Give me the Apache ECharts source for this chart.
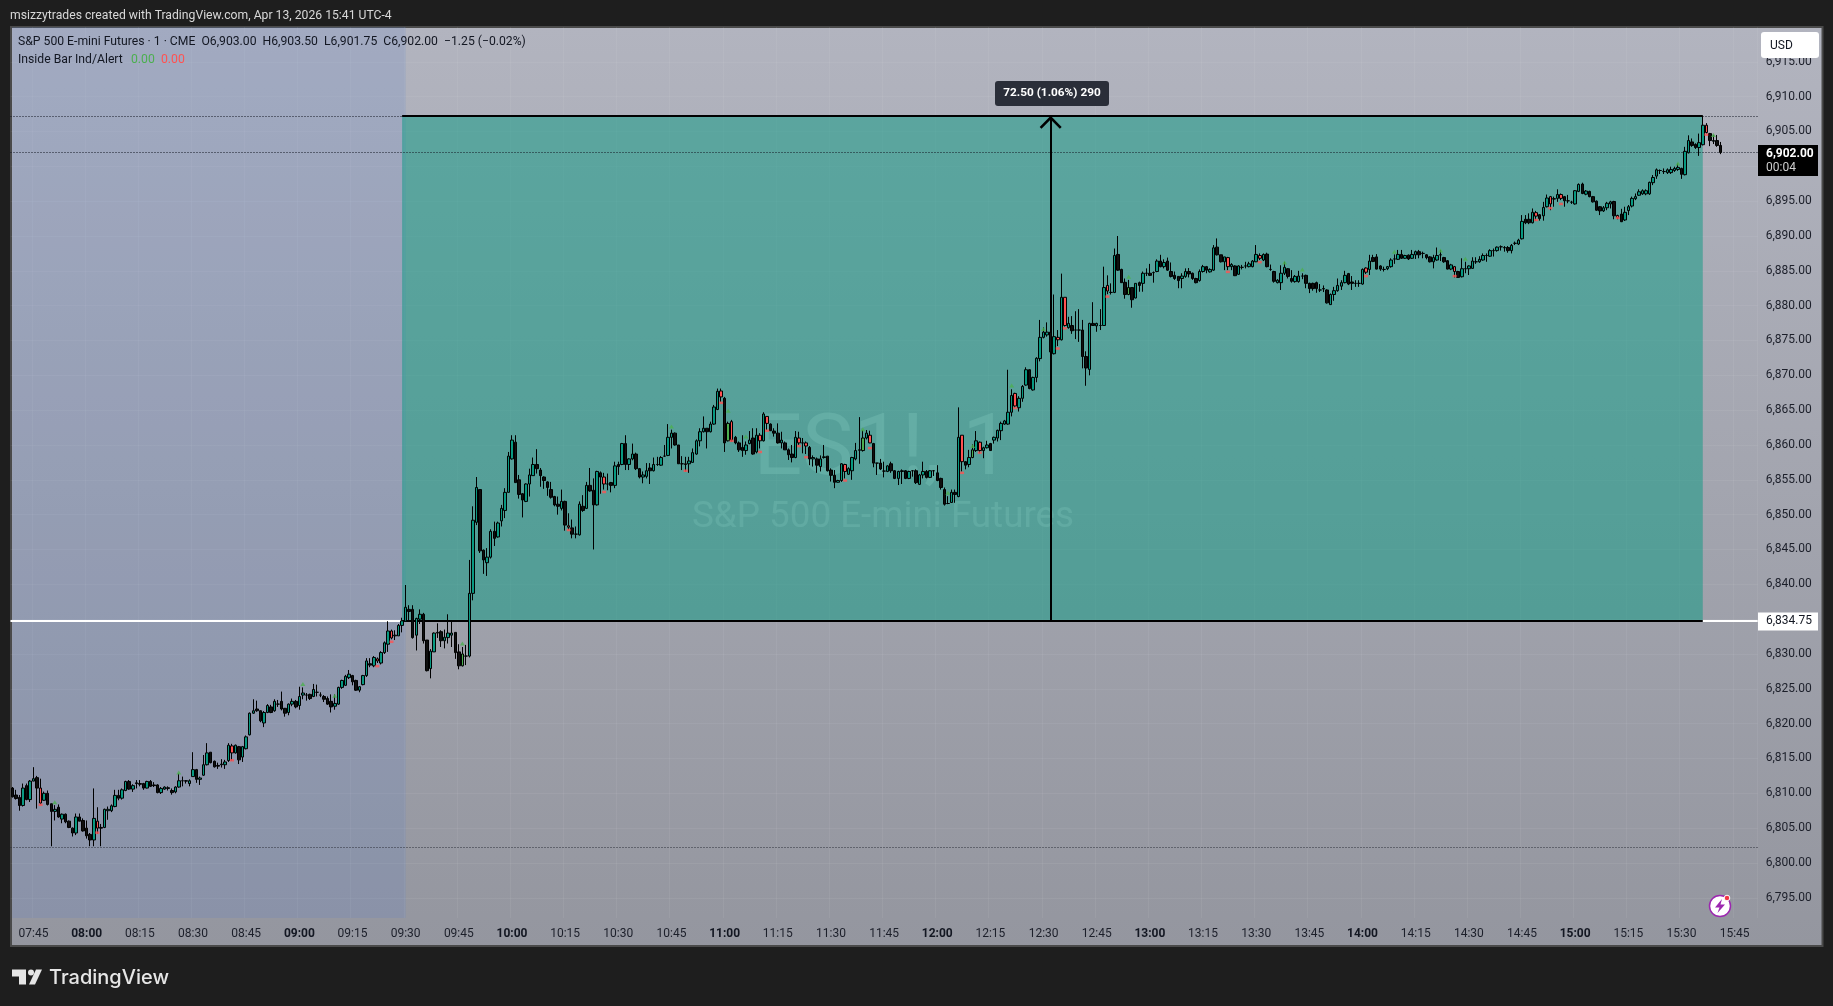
<!DOCTYPE html>
<html><head><meta charset="utf-8">
<style>html,body{margin:0;padding:0;background:#1e1e1e}#c{width:1833px;height:1006px}</style>
<script src="https://cdn.jsdelivr.net/npm/echarts@6/dist/echarts.min.js"></script>
</head><body><div id="c"></div>
<script>
// Rows are [open, high, low, close], one per minute from 07:39.
const barsPremarket=[
[6810.75,6810.9,6809.4,6809.5],[6809.75,6810.5,6809.1,6809.25],[6809.4,6809.75,6807.5,6808.25],[6808.25,6811.4,6808.1,6810.75],[6811.1,6811.4,6809,6809.1],[6809.1,6811.9,6808.75,6811.75],[6811.75,6813.75,6811.75,6812.1],[6812.25,6812.5,6807.8,6810.75],[6810.75,6812.1,6808.4,6808.6],[6809,6810.25,6808.9,6810],
[6810,6810.4,6808.25,6808.4],[6808.5,6808.5,6802.4,6807.4],[6807.4,6808.3,6806.1,6807.7],[6808,6808.4,6806.5,6806.6],[6806.3,6807.1,6805.7,6807],[6807,6807.1,6805.7,6805.9],[6806,6806.1,6805,6805.1],[6805,6805.1,6803.8,6804.3],[6804.3,6807.1,6804,6806.6],[6806.6,6807.1,6806,6806],
[6806.1,6806.4,6804.5,6804.6],[6805,6806.1,6803.5,6803.9],[6804.1,6804.3,6802.4,6803.3],[6803.3,6810.7,6802.4,6806.4],[6806,6808,6804.2,6805],[6805.1,6805.6,6802.4,6805],[6805.1,6807.8,6805,6807.7],[6807.5,6808.1,6806.2,6807.7],[6807.5,6808.4,6807.3,6808.2],[6808.1,6810.5,6808,6809.7],
[6809.7,6810.5,6809,6809.3],[6809.3,6810.7,6809.1,6810.5],[6810.4,6811.8,6810.3,6811.7],[6811.7,6811.9,6810.5,6810.6],[6810.6,6811.3,6810.2,6811.1],[6811.5,6811.9,6810.7,6811.4],[6811.4,6811.9,6811,6811.3],[6811.4,6811.5,6810.5,6810.75],[6810.75,6811.8,6810.7,6811.7],[6811.7,6811.9,6810.9,6811],
[6811.2,6811.6,6810.9,6811.1],[6811.2,6811.3,6810,6810.1],[6810.1,6810.9,6809.9,6810.7],[6810.6,6811,6810.5,6810.9],[6810.8,6811,6810.4,6810.7],[6810.4,6810.7,6809.8,6810.1],[6810.2,6811,6810,6810.9],[6810.9,6812.85,6810.8,6811.8],[6811.8,6812.4,6811,6811.8],[6811.8,6811.9,6811.4,6811.75],
[6811.4,6812,6811,6811.8],[6812.4,6815.9,6812.4,6813.4],[6813.4,6813.5,6811.5,6812],[6812,6812.4,6811.2,6812.2],[6812.6,6815.5,6812.5,6814.1],[6814.1,6817.2,6814,6815.8],[6815.9,6815.9,6814.3,6814.4],[6814.6,6814.7,6813.7,6813.8],[6814,6814.4,6813.5,6813.9],[6814.1,6814.9,6813.7,6814.2],
[6814.1,6814.8,6813.5,6814.5],[6814.7,6817.2,6814.5,6816.9],[6816.8,6817.1,6814.7,6815.8],[6815.8,6817,6815.7,6816.9],[6816.7,6816.8,6814.2,6814.8],[6815.2,6816.8,6814.5,6816.7],[6816.4,6818.3,6816.3,6818.1],[6818.4,6821.6,6818.3,6821.5],[6821.5,6823.5,6821.4,6821.85],[6822.1,6823.3,6821.7,6821.85],
[6821.85,6821.9,6820.2,6820.4],[6820.1,6821.8,6819.5,6821.6],[6821.6,6822.8,6821.5,6822.6],[6822.4,6822.7,6821.5,6821.6],[6821.85,6823.5,6821.7,6823.2],[6822.8,6823.4,6822.4,6822.8],[6823.2,6824.6,6821.9,6822.1],[6822.2,6822.25,6821,6821.5],[6821.6,6822.9,6821.2,6822.8],[6822.8,6823.6,6822.5,6823.2],
[6823.2,6823.4,6822.2,6822.4],[6822.6,6825.3,6822,6823.9],[6824.1,6825.2,6823.5,6824.4],[6824.1,6824.4,6823.3,6824.1],[6824.2,6824.3,6823.4,6823.6],[6823.9,6825.7,6823.8,6824.9],[6824.5,6825.6,6823.9,6824.5],[6824.1,6824.5,6823.8,6824.1],[6823.9,6824.1,6823.1,6823.5],[6823.6,6823.9,6822.7,6822.8],
[6823.2,6824.2,6821.6,6822.4],[6822.5,6824.2,6822,6822.9],[6822.8,6825.3,6822.7,6825.2],[6825.2,6826.3,6825,6826.2],[6825.5,6827,6825.4,6826.8],[6826.6,6827.7,6826.4,6827.1],[6826.9,6827,6825.5,6826],[6826.2,6826.3,6824.7,6824.8],[6824.8,6825.4,6824.5,6825.3],[6825.6,6827,6825.5,6826.9],
[6826.9,6829.4,6826.7,6829],[6828.6,6829.4,6828.1,6828.4],[6828.3,6829.7,6828.1,6829.5],[6829.3,6829.5,6828.7,6829],[6828.7,6830.4,6828.5,6830.2],[6830.2,6831.8,6830,6831.6],[6831.4,6834.7,6830.3,6833.3],[6833.3,6833.5,6832.1,6832.3],[6832.6,6833.4,6832,6832.7],[6832.6,6834.3,6832.6,6834.1],
[6834.1,6835.2,6833.1,6834.75]];
const barsMorning=[
[6834.7,6839.9,6834.7,6836.7],[6836.4,6837,6834.7,6836.1],[6836.4,6837,6832.2,6832.35],[6832.7,6835.2,6830.5,6835.1],[6835,6836.4,6834.3,6835.7],[6835.7,6835.9,6831.5,6831.9],[6832,6832,6827.5,6827.6],[6827.9,6830.7,6826.5,6830.4],[6830.3,6833.1,6830.3,6833],[6833,6834.4,6832.3,6833.1],
[6833.2,6833.4,6831,6831.9],[6831.9,6833.5,6830.8,6832.4],[6832.35,6835.7,6831.5,6833],[6832.7,6834.6,6831,6833],[6833.1,6833.1,6829.3,6830.2],[6830.3,6831.4,6827.8,6828.3],[6828.3,6831,6828.2,6830],[6829.7,6831.3,6828.4,6829.7],[6829.7,6843.5,6829.5,6838.7],[6838.7,6851.2,6837.7,6849.2],
[6848.9,6855.4,6848.5,6853.9],[6853.6,6853.6,6844.5,6844.8],[6844.9,6845,6841.5,6843.5],[6843.1,6845.2,6841.2,6843.9],[6843.9,6847.9,6843.7,6847.6],[6847.6,6849,6845.5,6846.6],[6846.8,6849,6846.7,6848.8],[6849.1,6851.4,6848.3,6850.9],[6850.6,6853.8,6849.5,6853.2],[6853.2,6859,6853.2,6858.4],
[6858,6861.4,6857.9,6860.7],[6860.4,6861.4,6854.6,6854.6],[6855,6855.7,6852.3,6852.9],[6853,6853.1,6849.6,6852.1],[6851.9,6854.5,6851.8,6854.4],[6854.4,6856.6,6852.6,6855.7],[6855.6,6858.2,6855.6,6857.2],[6857.2,6859.4,6855.9,6856.6],[6856.4,6856.7,6854,6855.6],[6855.4,6855.5,6853.7,6854.9],
[6854.7,6854.8,6852.7,6853.9],[6853.6,6854.7,6852.3,6852.5],[6852.6,6852.7,6851.2,6851.4],[6851.5,6852.6,6850,6851.2],[6850.9,6853.6,6850.6,6851.9],[6851.9,6852,6847.7,6848.5],[6848.4,6850.2,6847.8,6848.2],[6848.1,6849.3,6846.6,6847.2],[6847.2,6848.3,6846.6,6847.2],[6847.1,6851.9,6847,6851.5],
[6851.2,6852.8,6850.4,6850.6],[6850.9,6854.7,6850.8,6854.2],[6854.2,6856.7,6853.3,6853.4],[6853.5,6855.2,6845,6851.4],[6851.4,6856.3,6851.3,6856.2],[6856,6856.2,6853,6855.4],[6855.4,6856,6853.6,6854.4],[6854.4,6855.9,6853.5,6854.4],[6854.6,6854.7,6853.2,6854.2],[6854.2,6857.6,6853.8,6857],
[6857.2,6857.6,6855.7,6856.9],[6857.2,6860.3,6857.1,6860.2],[6860.2,6861.4,6856.4,6857.2],[6857.2,6858.1,6856.4,6858],[6858,6860.2,6857.8,6858.7],[6858.7,6858.9,6856.4,6856.6],[6856.6,6856.7,6855.2,6855.4],[6855.4,6856.2,6854.5,6855.7],[6855.5,6857.4,6855.2,6856.3],[6856.7,6857.4,6854.4,6856.3],
[6856.3,6858.2,6856.2,6857.2],[6857.2,6858.3,6857,6857.2],[6857.1,6858.4,6857,6858.2],[6858.4,6860,6858.3,6858.4],[6858.5,6863,6858.4,6861.1],[6861.1,6862.2,6859.5,6861.7],[6861.7,6861.8,6859.9,6860],[6860,6860,6857.3,6857.3],[6857.3,6858.4,6856.4,6857.3],[6857.3,6858.3,6856.2,6857.2],
[6857.3,6858.3,6856,6857.7],[6857.5,6859.5,6857.5,6858.9],[6858.7,6860.8,6858.6,6860.6],[6860.6,6862.4,6859.8,6861.9]];
const barsMidday=[
[6861.9,6864.1,6861.8,6862.4],[6862.4,6862.4,6859.5,6861.9],[6861.9,6863.35,6861.8,6863],[6863,6865.75,6862.9,6865.45],[6865.1,6868.1,6865,6867.7],[6867.75,6868.1,6866.2,6866.9],[6866.7,6866.9,6859,6860.3],[6860.6,6863.35,6860.5,6863.1],[6863.35,6863.6,6860.5,6860.7],[6861.1,6861.3,6860.1,6860.3],
[6860.3,6860.5,6859,6859.3],[6859.65,6861.4,6858.3,6859.2],[6859.2,6860.5,6858.6,6860],[6860.2,6862,6860.1,6860.7],[6861,6862.4,6858.6,6858.7],[6859,6862.4,6858.8,6861.4],[6861.4,6861.7,6859.5,6860.6],[6860.6,6864.7,6860.5,6864.45],[6864.1,6864.1,6862.15,6863.1],[6863,6863.1,6862,6862.05],
[6862,6862.4,6861.2,6861.7],[6861.7,6863.1,6860.2,6860.3],[6860.3,6861.9,6859.5,6860.7],[6860.3,6860.5,6859.3,6859.3],[6859.3,6859.5,6857.85,6858.6],[6858.7,6860,6857.5,6858.2],[6858.2,6862,6858.1,6861.1],[6861,6861.9,6860,6860.3],[6860.3,6861,6858.8,6860.3],[6860.3,6860.5,6858.7,6859.85],
[6859.65,6859.85,6857.1,6858],[6858,6858.5,6856.9,6858.2],[6858,6858.2,6856,6857.1],[6856.9,6858.5,6856.2,6858],[6858.2,6860,6858.05,6858.3],[6858.4,6858.4,6856.2,6856.3],[6856.4,6856.65,6854.75,6855.65],[6855.65,6856.4,6853.8,6854.65],[6854.65,6855,6854.6,6854.9],[6854.9,6857.4,6854.7,6857.3],
[6857.2,6857.3,6855.2,6856.2],[6855.8,6856.8,6855.7,6856.6],[6856.3,6858.3,6855,6858.2],[6858,6860.3,6857.8,6859.2],[6859.3,6864,6857.3,6859.25],[6859.2,6862.15,6859.05,6861],[6861,6862.15,6860.8,6861.7],[6861.4,6862.05,6860.25,6860.3],[6860.2,6860.3,6856.8,6857.4],[6857.4,6857.4,6855.7,6857.4],
[6857.4,6858,6856.4,6856.55],[6856.25,6857.6,6855.35,6856.25],[6856.2,6857.1,6856.1,6857],[6857.3,6857.6,6856,6856.3],[6856.3,6856.4,6855.1,6855.2],[6855.2,6856.3,6854.25,6856.2],[6856.2,6856.5,6854.4,6856.3],[6856.3,6856.4,6855.1,6855.2],[6855.2,6856.3,6855.1,6856.2],[6856.3,6856.35,6855.45,6856.3],
[6856.3,6856.5,6854.4,6854.6],[6854.35,6855.85,6854.25,6855.7],[6855.7,6857.6,6855.2,6856.2],[6856.2,6856.4,6855.2,6855.35],[6855.35,6856.4,6855.25,6856.3],[6856.3,6856.4,6855.55,6856.3],[6856,6857.1,6854.8,6854.9],[6855.2,6855.3,6853.6,6853.9],[6853.6,6853.9,6851.3,6851.5],[6851.6,6852.65,6851.5,6851.6],
[6851.75,6853.6,6851.7,6853.2],[6853.2,6853.6,6851.7,6852.9],[6852.6,6865.4,6852.5,6861.1],[6861.4,6861.4,6856.2,6857.6],[6857.6,6857.7,6856.5,6857.1],[6857.2,6859.3,6856.8,6858.2],[6858.2,6860.1,6858.1,6859.3],[6859.2,6862,6859,6860.6],[6860.4,6860.5,6858.8,6859.2],[6859.2,6859.75,6858.1,6859.6],
[6859.6,6860.6,6859.5,6860],[6860.2,6860.3,6859.2,6859.2]];
const barsAfternoon=[
[6860.7,6861.2,6860.2,6861.1],[6861,6862.2,6860.5,6862.1],[6862.05,6863.35,6860.7,6863.1],[6863,6863.6,6862.9,6863.45],[6863,6870.8,6862.9,6864.7],[6864.7,6868,6864.1,6867.1],[6867.4,6867.5,6865.3,6865.6],[6865.35,6867,6864.8,6866.7],[6866.7,6868.6,6866.2,6868.4],[6868.6,6871.15,6868.5,6870.8],
[6870.8,6870.85,6868,6868.1],[6867.9,6869.8,6867.8,6869.7],[6869.7,6872.6,6869,6872.45],[6872.4,6877.95,6872,6875.45],[6875.45,6876.9,6875.3,6876.2],[6875.8,6877.6,6875.55,6876.2],[6876.2,6876.2,6872.8,6873.35],[6873.1,6881.6,6873,6875.55],[6875.1,6876.5,6874.2,6875.45],[6875.1,6884.6,6875,6881.2],
[6881.2,6881.2,6877,6877.15],[6876.85,6878.4,6876.7,6877.45],[6877.15,6878.5,6875.95,6876.4],[6876.5,6879.2,6875.2,6876.5],[6876.5,6879.5,6874.8,6876.5],[6876.5,6877.95,6871,6872.7],[6872.7,6873.45,6868.5,6871.05],[6870.85,6877.55,6870,6877.45],[6877.45,6880.5,6877.1,6877.15],[6877.1,6877.55,6876.25,6877.45],
[6877.15,6879.5,6876.5,6877.15],[6877.15,6885.6,6877.1,6882.6],[6882.9,6884.35,6881.65,6882.1],[6881.9,6883.2,6881.6,6881.9],[6881.9,6888.2,6881.8,6887.2],[6887.35,6890,6885,6885.1],[6885.2,6885.3,6883.25,6883.3],[6883.35,6883.9,6881,6881.6],[6881.6,6883.7,6881.5,6882.6],[6882.6,6882.6,6879.7,6880.85],
[6881.1,6883.2,6881.05,6883.2],[6883.3,6883.45,6882,6882.9],[6883.2,6884.9,6882,6884.65],[6884.65,6885.35,6884.25,6884.65],[6884.65,6886,6884.25,6884.35],[6884.75,6884.9,6883.3,6884.75],[6884.9,6886.65,6884.8,6886.4],[6886.4,6887.3,6885.5,6885.6],[6885.6,6886.65,6885.35,6886.2],[6886.4,6886.9,6885,6885.1],
[6884.9,6886.2,6884.05,6884.2],[6884.35,6884.9,6883.7,6883.9],[6884.2,6884.25,6882.5,6883.6],[6883.9,6884.65,6882.5,6884.25],[6884.2,6885.35,6884,6884.9],[6884.9,6885.4,6884.05,6884.55],[6884.65,6884.75,6883.7,6883.9],[6883.9,6884,6883.2,6883.3],[6883.6,6885.2,6883.45,6884.9],[6884.9,6885.85,6884.75,6885.6],
[6885.6,6885.7,6884.65,6885.1],[6884.85,6885.35,6884.75,6885.2],[6885.1,6888.7,6885,6888.3],[6888.4,6889.65,6887.2,6887.3],[6887.3,6887.3,6886.2,6886.3],[6886.3,6887,6885.1,6887],[6886.9,6887,6885.1,6885.6],[6885.6,6886.1,6885.1,6885.9],[6885.7,6885.8,6884.25,6884.3],[6884.5,6885.8,6884.45,6885.7],
[6885.5,6885.85,6885.2,6885.5],[6885.7,6886.3,6885.35,6885.7],[6885.6,6886.3,6885.5,6886],[6885.6,6886.55,6885.5,6886.4],[6886.3,6888.7,6886.25,6887.35],[6887.2,6887.5,6886.55,6886.8],[6886.55,6887.5,6886.4,6887.35],[6887.4,6887.6,6885.5,6885.6],[6885.2,6885.9,6885,6885.2],[6884.9,6885,6883.3,6883.5],
[6883.3,6883.8,6883.2,6883.65],[6883.3,6885.8,6882.25,6884.65],[6884.65,6886.3,6884.4,6885.5],[6885.3,6885.4,6883.9,6884.2],[6883.9,6885.1,6883.3,6883.5],[6883.45,6884.4,6883.3,6884.2],[6883.45,6885,6883.3,6884.25],[6884.25,6884.65,6883.8,6884.25],[6884.35,6884.45,6882.5,6883.2],[6883.2,6883.3,6881.8,6882.45],
[6883.2,6883.3,6882.15,6882.45],[6883.3,6883.45,6881.85,6882.45],[6882.25,6883.1,6881.95,6882.25],[6882.45,6882.9,6881.95,6882.4],[6882.25,6882.35,6880.3,6880.4],[6880.15,6881.75,6880.1,6881.6],[6881.6,6882.7,6880.7,6882.15],[6882.15,6883.9,6882,6882.9],[6882.8,6883.65,6882.25,6883.3],[6883.3,6885,6883.2,6884.35],
[6884.6,6884.7,6882.95,6883.1],[6883.4,6884.25,6882.25,6883.2],[6883.2,6883.65,6882.7,6883.2],[6883.2,6883.65,6882.7,6883.2],[6883.1,6885.35,6883,6885.2],[6885.4,6885.5,6884.55,6884.8],[6885.2,6887.3,6884.4,6886.4],[6886.9,6887.3,6886.25,6886.35],[6887,6887.4,6885.2,6885.25],[6885.7,6885.8,6885,6885.25],
[6885.2,6885.6,6884.9,6885.2],[6885.3,6885.7,6885.1,6885.6],[6885.6,6886.8,6885.45,6886.55],[6886.7,6887.35,6886,6886.7],[6886.65,6888,6886.55,6887.35],[6887.35,6888,6886.7,6886.8],[6886.8,6887.3,6886.7,6887.2],[6887.25,6887.35,6886.55,6886.7],[6886.8,6888,6886.7,6887.35],[6887.3,6887.9,6886.7,6887.75],
[6887.75,6888,6886.8,6887.3],[6887.5,6887.75,6886.8,6887.5],[6887.3,6887.4,6886.65,6886.9],[6887,6887.1,6886.2,6886.3],[6886.3,6887.3,6885.35,6886.9],[6886.55,6888.35,6886.45,6887.2],[6887.3,6888,6886.4,6887.3],[6886.9,6887,6886.15,6886.3],[6886.45,6886.55,6885.2,6885.25],[6885.25,6886,6885.1,6885.85],
[6885.6,6885.7,6884.05,6884.9],[6884.9,6885,6884,6884.05],[6884.15,6886.8,6884.05,6885.3],[6885.3,6886.3,6884.65,6885.3],[6885.3,6885.8,6884.4,6885.7],[6885.35,6886.95,6885.3,6886.4],[6886.3,6886.95,6886,6886.3],[6886.3,6887.1,6886.15,6886.65],[6886.55,6887.5,6886.45,6887.2],[6887.2,6887.5,6886.3,6887.2],
[6887.1,6888.1,6887,6887.9],[6887.9,6888.2,6887.05,6887.9],[6887.9,6888.5,6887.75,6888.4]];
const barsClose=[
[6888.45,6888.65,6887.9,6888.45],[6888.35,6888.55,6887.75,6888.3],[6888.35,6888.55,6887.6,6887.9],[6887.9,6888.85,6887.5,6888.65],[6888.95,6889.2,6888.7,6888.95],[6888.85,6889.6,6888.7,6889.4],[6889.6,6893,6889.5,6892.1],[6892.4,6893,6891.7,6891.9],[6892.4,6893.25,6891.7,6891.9],[6891.9,6893.95,6891.8,6893.4],
[6893.35,6893.6,6892.2,6892.85],[6893.05,6893.15,6892.2,6892.5],[6892.9,6894.9,6892.2,6894.1],[6894.2,6895.95,6894.1,6895.45],[6895.65,6895.75,6893.7,6894.6],[6895.35,6895.65,6894.2,6895.3],[6895.4,6896.7,6894.9,6895.95],[6895.95,6896.1,6895.15,6895.4],[6895.65,6895.75,6894.2,6895.05],[6895.05,6895.9,6894.7,6895.05],
[6894.85,6895.05,6894.6,6894.85],[6894.6,6896.6,6894.5,6896.5],[6896.4,6897.55,6896.3,6897.4],[6897.45,6897.65,6896,6896.1],[6896,6896.6,6895.85,6896.45],[6896.4,6896.5,6895.55,6895.65],[6895.65,6895.75,6894.8,6894.9],[6895,6895.1,6893.6,6893.7],[6894.2,6894.3,6893,6893.6],[6893.6,6894.3,6893.45,6894.05],
[6894.05,6894.9,6893.7,6894.7],[6894.6,6895.05,6893.95,6894.9],[6894.95,6895.05,6892.4,6892.9],[6892.95,6893.05,6892.4,6892.6],[6893.15,6893.9,6892,6892.05],[6892.3,6894.2,6892.15,6893.4],[6893.65,6894.45,6893,6894.2],[6894.3,6895.65,6894.1,6895.4],[6895.35,6896.1,6895.15,6895.65],[6895.85,6896.7,6895.75,6896.35],
[6896.05,6896.7,6895.9,6896.5],[6896.05,6896.7,6895.85,6896.5],[6896.05,6897.8,6895.9,6897.7],[6897.65,6898.75,6897.3,6898.4],[6898.6,6899.7,6898.2,6899.5],[6899.4,6899.55,6898.9,6899.4],[6899.25,6899.7,6898.9,6899.25],[6899.1,6899.7,6898.9,6899.5],[6899.1,6899.95,6898.9,6899.55],[6899.4,6899.95,6899.2,6899.7],
[6899.55,6900.4,6899.35,6899.85],[6899.7,6899.8,6898.2,6898.85],[6898.8,6902.8,6898.7,6902.15],[6901.95,6904.45,6901.85,6903.7],[6903.5,6904,6902.8,6903],[6903.15,6903.3,6902.5,6902.7],[6902.7,6904.7,6901.5,6903.4],[6903.1,6907.25,6903,6905.9],[6905.9,6906.2,6904.7,6904.85],[6904.7,6904.8,6902.9,6903.7],
[6903.6,6904.5,6903.2,6903.7],[6903.7,6904.5,6902.8,6903],[6903,6903.5,6901.75,6902]];
// Bars (1-based, counted from 07:39) whose body the indicator recolours.
const redBodies=[9,25,63,104,108,158,168,191,201,204,212,214,223,225,236,243,269,274,284,296,298,310,344,353,383,408,431,435,438,454,479];
const greenBodies=[128,203,241,272,316];
// Indicator marks: [bar, price].
const redMarks=[[9,6808.35],[25,6804.35],[63,6814.75],[104,6828.25],[108,6831.75],[158,6847.8],[168,6853.25],[191,6856.3],[201,6866.05],[204,6860.6],[212,6859],[214,6862.05],[223,6859.85],[225,6858.25],[236,6854.9],[243,6859.55],[269,6856],[274,6858.9],[284,6865.3],[296,6873.85],[298,6876.75],[310,6881.3],[344,6884.85],[353,6886.25],[383,6884.25],[408,6884.25],[431,6892.3],[435,6894],[438,6894.6],[454,6892.6],[479,6904.55]];
const greenMarks=[[13,6808.7],[48,6813],[83,6825.7],[92,6824],[128,6831.5],[187,6862.65],[203,6864.9],[208,6861.2],[241,6862.25],[265,6853.15],[272,6859.85],[283,6868.55],[292,6876.65],[316,6884.15],[360,6886.2],[365,6885.2],[391,6887.75],[404,6887.9],[411,6886.75],[471,6900.4],[481,6904.5]];
const yTicks=[6795,6800,6805,6810,6815,6820,6825,6830,6835,6840,6845,6850,6855,6860,6865,6870,6875,6880,6885,6890,6895,6900,6905,6910,6915];
const rangeHigh=6907.25, rangeLow=6834.75, lastPrice=6902, sessionLow=6802.25;
const axisMin=6792.1, axisMax=6920;
const firstMinute=459, categoryCount=493;

const pad=n=>String(n).padStart(2,'0');
const categories=[];
for(let i=0;i<categoryCount;i++){const m=firstMinute+i;categories.push(pad(Math.floor(m/60))+':'+pad(m%60));}
const rows=[].concat(barsPremarket,barsMorning,barsMidday,barsAfternoon,barsClose);
const redSet=new Set(redBodies), greenSet=new Set(greenBodies);
const candleData=rows.map((r,i)=>{
  const item={value:[r[0],r[3],r[2],r[1]]};
  if(redSet.has(i+1)) item.itemStyle={color:'#ff5252',color0:'#ff5252'};
  if(greenSet.has(i+1)) item.itemStyle={color:'#4caf50',color0:'#4caf50'};
  return item;
});
const isQuarter=(idx,val)=>Number(val.slice(3))%15===0;
const FONT='Roboto, "Noto Sans", sans-serif';
const chevron='path://M12 -14 L12.01 -14 L12 -14 Z M12 0 L24 12 L22 14 L12 4 L2 14 L0 12 Z';

const chart=echarts.init(document.getElementById('c'),null,{renderer:'canvas',width:1833,height:1006});
chart.setOption({
  animation:false,
  backgroundColor:'#1e1e1e',
  grid:{left:10.5,right:75.3,top:27,bottom:88,containLabel:false},
  xAxis:{type:'category',data:categories,boundaryGap:true,
    axisLine:{show:false},axisTick:{show:false},
    splitLine:{show:true,interval:isQuarter,lineStyle:{color:'rgba(255,255,255,0.06)',width:1}},
    axisLabel:{interval:isQuarter,hideOverlap:false,margin:10,color:'#1c1f2a',fontFamily:FONT,fontSize:12,
      formatter:v=>v.endsWith(':00')?'{b|'+v+'}':v,
      rich:{b:{fontWeight:'bold',color:'#131722',fontFamily:FONT,fontSize:12}}}},
  yAxis:{type:'value',position:'right',min:axisMin,max:axisMax,scale:true,
    axisLine:{show:false},axisTick:{show:false,customValues:yTicks},
    splitLine:{show:true,lineStyle:{color:'rgba(255,255,255,0.06)',width:1}},
    axisLabel:{customValues:yTicks,margin:8,color:'#1c1f2a',fontFamily:FONT,fontSize:12,
      formatter:v=>v.toLocaleString('en-US',{minimumFractionDigits:2,maximumFractionDigits:2})}},
  series:[
    {type:'candlestick',data:candleData,barWidth:3,z:3,clip:false,
      itemStyle:{color:'#089981',color0:'#0f0f0f',borderColor:'#000',borderColor0:'#000',borderColorDoji:'#000',borderWidth:1},
      markArea:{silent:true,z:1,data:[
        [{xAxis:categories[0],yAxis:axisMax,itemStyle:{color:'rgba(90,125,205,0.18)'}},{xAxis:'09:30',yAxis:axisMin}],
        [{xAxis:'09:29',yAxis:rangeHigh,itemStyle:{color:'rgba(8,153,129,0.5)'}},{xAxis:'15:36',yAxis:rangeLow}]
      ]},
      markLine:{silent:true,z:2,symbol:['none','none'],label:{show:false},data:[
        {yAxis:rangeHigh,lineStyle:{color:'#131722',type:[1,2],width:1}},
        {yAxis:lastPrice,lineStyle:{color:'#131722',type:[1,2],width:1}},
        {yAxis:sessionLow,lineStyle:{color:'#2a2e39',type:[1,2],width:1}},
        {yAxis:rangeLow,lineStyle:{color:'#fff',type:'solid',width:2}},
        [{coord:['09:29',rangeHigh],lineStyle:{color:'#000',type:'solid',width:2}},{coord:['15:36',rangeHigh]}],
        [{coord:['09:29',rangeLow],lineStyle:{color:'#000',type:'solid',width:2}},{coord:['15:36',rangeLow]}],
        [{coord:['12:32',rangeLow],symbol:'none',lineStyle:{color:'#000',type:'solid',width:2}},{coord:['12:32',rangeHigh],symbol:chevron,symbolSize:[22,26]}]
      ]}},
    {type:'scatter',name:'inside down',z:4,symbol:'rect',symbolSize:[4,2.5],itemStyle:{color:'#ff5252'},
      data:redMarks.map(m=>[m[0]-1,m[1]])},
    {type:'scatter',name:'inside up',z:4,symbol:'triangle',symbolSize:[5,4],itemStyle:{color:'#4caf50'},
      data:greenMarks.map(m=>[m[0]-1,m[1]])}
  ]
});
const py=v=>chart.convertToPixel({yAxisIndex:0},v);
const fmt=v=>v.toLocaleString('en-US',{minimumFractionDigits:2,maximumFractionDigits:2});
const hdr={fontFamily:FONT,fontSize:12.2,fill:'#d8d8d8'};
const lg={fontFamily:FONT,fontSize:12.2,fill:'#131722'};
const T=(x,y,text,style,z)=>({type:'text',x,y,z:z||60,silent:true,style:Object.assign({text,textVerticalAlign:'middle',verticalAlign:'middle'},style)});
chart.setOption({graphic:[
  {type:'rect',z:-5,silent:true,shape:{x:11,y:27,width:1811.5,height:919},
    style:{fill:new echarts.graphic.LinearGradient(0,0,0,1,[{offset:0,color:'#b2b4bf'},{offset:1,color:'#94969f'}]),stroke:'#4a4a4a',lineWidth:2}},
  T(882,452,'ES1!, 1',{fontFamily:FONT,fontSize:86,fill:'rgba(255,255,255,0.3)',align:'center',textAlign:'center'},-4),
  T(883,518,'S&P 500 E-mini Futures',{fontFamily:FONT,fontSize:36.8,fill:'rgba(255,255,255,0.26)',align:'center',textAlign:'center'},-4),
  T(10,15.5,'msizzytrades created with TradingView.com, Apr 13, 2026 15:41 UTC-4',hdr),
  T(18,42,'S&P 500 E-mini Futures · 1 · CME  O6,903.00  H6,903.50  L6,901.75  C6,902.00  −1.25 (−0.02%)',lg),
  T(18,60,'Inside Bar Ind/Alert',lg),
  T(131,60,'0.00',{fontFamily:FONT,fontSize:12.2,fill:'#4caf50'}),
  T(161,60,'0.00',{fontFamily:FONT,fontSize:12.2,fill:'#ff5252'}),
  {type:'rect',z:60,silent:true,shape:{x:1761,y:32,width:58,height:26,r:3},style:{fill:'#fff'}},
  T(1770,45.5,'USD',{fontFamily:FONT,fontSize:12,fill:'#131722'},61),
  {type:'rect',z:60,silent:true,shape:{x:1758,y:py(rangeLow)-8.5,width:60,height:18},style:{fill:'#fff'}},
  T(1766,py(rangeLow)+0.5,fmt(rangeLow),{fontFamily:FONT,fontSize:12,fill:'#131722'},61),
  {type:'rect',z:60,silent:true,shape:{x:1758,y:145,width:60,height:31},style:{fill:'#000'}},
  T(1766,154,fmt(lastPrice),{fontFamily:FONT,fontSize:12,fontWeight:'bold',fill:'#fff'},61),
  T(1766,168,'00:04',{fontFamily:FONT,fontSize:12,fill:'#cfcfcf'},61),
  {type:'rect',z:60,silent:true,shape:{x:995,y:81,width:114,height:25,r:3},style:{fill:'#2a2e39'}},
  T(1052,93.5,'72.50 (1.06%) 290',{fontFamily:FONT,fontSize:11.8,fontWeight:'bold',fill:'#fff',align:'center',textAlign:'center'},61),
  {type:'circle',z:60,silent:true,shape:{cx:1720,cy:906,r:10.5},style:{fill:'#fff',stroke:'#9c27b0',lineWidth:1.5}},
  {type:'polygon',z:61,silent:true,shape:{points:[[1722,899],[1715,907.5],[1719.5,907.5],[1717.5,913],[1725,904.5],[1720.5,904.5]]},style:{fill:'#9c27b0'}},
  {type:'circle',z:62,silent:true,shape:{cx:1727,cy:898,r:2.8},style:{fill:'#f23645',stroke:'#fff',lineWidth:1}},
  {type:'polygon',z:60,silent:true,shape:{points:[[12,969.5],[26,969.5],[26,984.5],[19,984.5],[19,976.5],[12,976.5]]},style:{fill:'#e6e6e6'}},
  {type:'circle',z:60,silent:true,shape:{cx:31,cy:972.5,r:3},style:{fill:'#e6e6e6'}},
  {type:'polygon',z:60,silent:true,shape:{points:[[36,969.5],[42,969.5],[35,984.5],[29,984.5]]},style:{fill:'#e6e6e6'}},
  T(49,978,'TradingView',{fontFamily:'Inter, Roboto, sans-serif',fontSize:20,fontWeight:500,fill:'#e6e6e6'})
]});
</script></body></html>
